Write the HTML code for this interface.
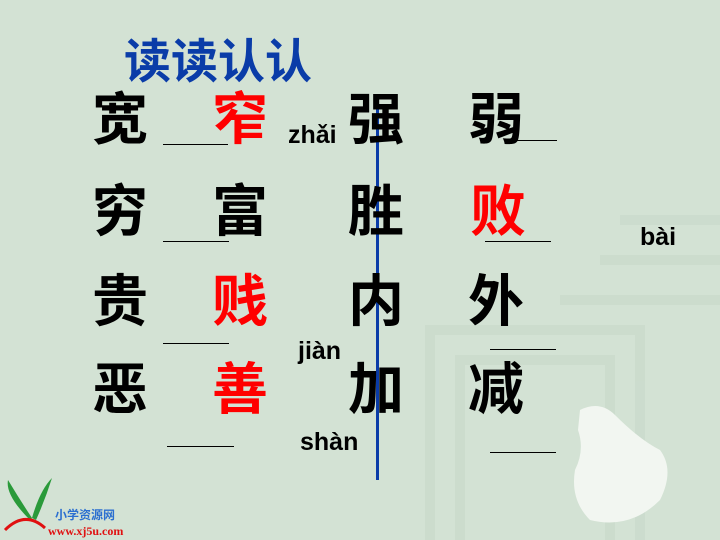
<!DOCTYPE html>
<html><head><meta charset="utf-8"><style>
body{margin:0}
#s{position:relative;width:720px;height:540px;overflow:hidden;background:#d3e2d4;font-family:"Liberation Sans","Noto Sans CJK SC",sans-serif}
.c{position:absolute;font-size:56px;line-height:56px;font-weight:bold;color:#000;font-family:"Noto Sans CJK SC",sans-serif}
.r{color:#f00}
.l{position:absolute;height:1px;background:#000}
.p{position:absolute;font-size:25px;font-weight:bold;line-height:26px;color:#000}
</style></head><body>
<div id="s">
<svg style="position:absolute;left:0;top:0" width="720" height="540">
<g fill="none" stroke="#c8d9ca" stroke-width="10" opacity="0.6">
<path d="M430 540 V330 H640 V540"/><path d="M460 540 V360 H610 V540"/><path d="M560 300 H720"/><path d="M600 260 H720 M620 220 H720"/>
</g>
<path d="M580 410 Q600 400 615 415 Q640 440 660 450 Q675 470 660 500 Q630 530 590 520 Q570 500 575 470 Q585 450 578 430 Z" fill="#f2f6f1"/>
<g fill="#2a9a3a"><path d="M30 520 Q5 495 8 480 Q20 500 32 518Z"/><path d="M32 518 Q40 490 52 478 Q45 500 36 520Z"/></g>
<path d="M5 530 Q25 510 45 528" stroke="#e01010" stroke-width="3" fill="none"/>
</svg>
<div style="position:absolute;left:55px;top:508px;font-size:12px;font-weight:bold;color:#2b6fd0;font-family:'Noto Sans CJK SC',sans-serif;line-height:14px">小学资源网</div>
<div style="position:absolute;left:48px;top:524px;font-size:12px;font-weight:bold;color:#e01010;font-family:'Liberation Serif',serif;line-height:14px">www.xj5u.com</div>
<div style="position:absolute;left:124px;top:30px;font-size:47px;line-height:56px;font-weight:bold;color:#0a3ca8;font-family:'Noto Sans CJK SC',sans-serif">读读认认</div>
<div style="position:absolute;left:376px;top:94px;width:3px;height:386px;background:#0a3ca8"></div>
<div class="c" style="left:92px;top:88px">宽</div>
<div class="c r" style="left:212px;top:88px">窄</div>
<div class="c" style="left:348px;top:88px">强</div>
<div class="c" style="left:468px;top:88px">弱</div>
<div class="c" style="left:92px;top:180px">穷</div>
<div class="c" style="left:212px;top:180px">富</div>
<div class="c" style="left:348px;top:180px">胜</div>
<div class="c r" style="left:470px;top:180px">败</div>
<div class="c" style="left:92px;top:270px">贵</div>
<div class="c r" style="left:212px;top:270px">贱</div>
<div class="c" style="left:348px;top:270px">内</div>
<div class="c" style="left:468px;top:270px">外</div>
<div class="c" style="left:92px;top:358px">恶</div>
<div class="c r" style="left:212px;top:358px">善</div>
<div class="c" style="left:348px;top:358px">加</div>
<div class="c" style="left:468px;top:358px">减</div>
<div class="l" style="left:163px;top:144px;width:65px"></div>
<div class="l" style="left:517px;top:140px;width:40px"></div>
<div class="l" style="left:163px;top:241px;width:66px"></div>
<div class="l" style="left:485px;top:241px;width:66px"></div>
<div class="l" style="left:163px;top:343px;width:66px"></div>
<div class="l" style="left:490px;top:349px;width:66px"></div>
<div class="l" style="left:167px;top:446px;width:67px"></div>
<div class="l" style="left:490px;top:452px;width:66px"></div>
<div class="p" style="left:288px;top:122px">zhǎi</div>
<div class="p" style="left:640px;top:224px">bài</div>
<div class="p" style="left:298px;top:338px">jiàn</div>
<div class="p" style="left:300px;top:429px">shàn</div>
</div>
</body></html>
